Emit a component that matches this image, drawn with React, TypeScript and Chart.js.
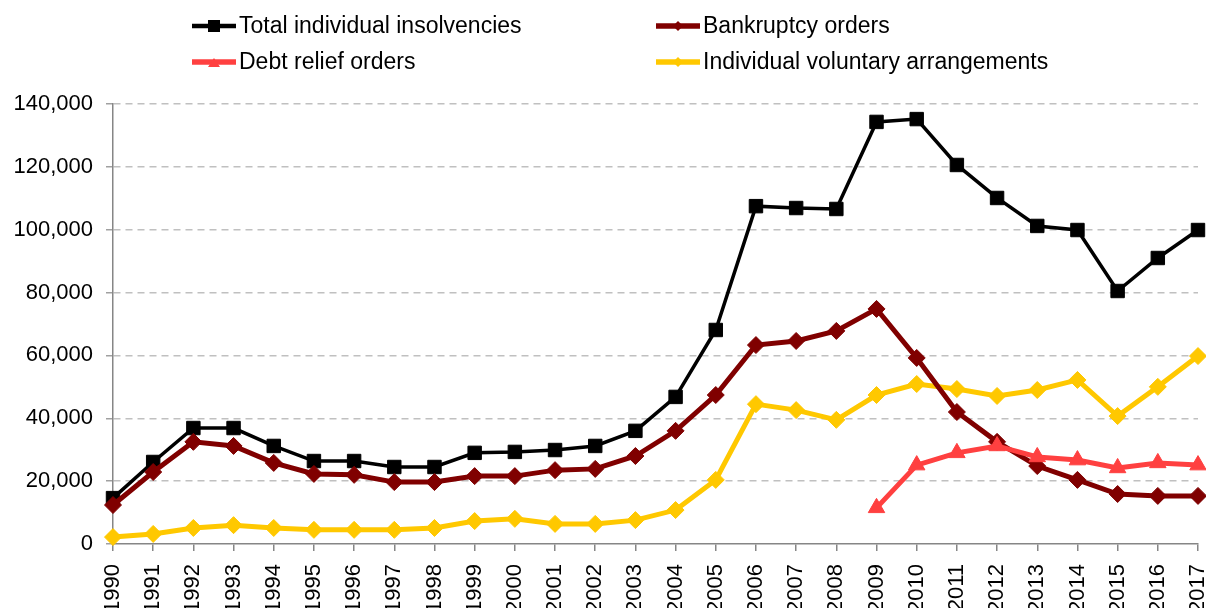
import React, { useEffect, useRef } from "react";
import { Chart, registerables } from "chart.js";

Chart.register(...registerables);

const years = [
  "1990", "1991", "1992", "1993", "1994", "1995", "1996", "1997", "1998", "1999",
  "2000", "2001", "2002", "2003", "2004", "2005", "2006", "2007", "2008", "2009",
  "2010", "2011", "2012", "2013", "2014", "2015", "2016", "2017",
];

const totalInsolvencies = [
  14600, 26100, 36900, 36900, 31200, 26400, 26400, 24500, 24500, 29000,
  29300, 29900, 31200, 36000, 46800, 68100, 107500, 106900, 106600, 134300,
  135200, 120600, 110100, 101200, 99900, 80500, 91000, 99900,
];

const bankruptcyOrders = [
  12400, 22900, 32500, 31200, 25800, 22300, 22000, 19700, 19700, 21600,
  21600, 23500, 23900, 28000, 36000, 47400, 63300, 64600, 67800, 74800,
  59200, 42000, 32500, 24800, 20400, 15900, 15300, 15300,
];

const debtReliefOrders = [
  null, null, null, null, null, null, null, null, null, null,
  null, null, null, null, null, null, null, null, null, 11500,
  25100, 29000, 31200, 27700, 26700, 24200, 25800, 25100,
];

const ivaValues = [
  2200, 3200, 5100, 6000, 5100, 4500, 4500, 4500, 5100, 7300,
  8000, 6400, 6400, 7600, 10800, 20400, 44500, 42600, 39500, 47400,
  50900, 49300, 47100, 49000, 52200, 40700, 50000, 59800,
];

const seriesNames = [
  "Total individual insolvencies",
  "Bankruptcy orders",
  "Debt relief orders",
  "Individual voluntary arrangements",
];

const yTicks = [0, 20000, 40000, 60000, 80000, 100000, 120000, 140000];

const FONT = "'Liberation Sans', Arial, sans-serif";

const legendItems = [
  { name: seriesNames[0], color: "#000000", style: "rect", x: 192, y: 26, lw: 4.5, r: 8 },
  { name: seriesNames[1], color: "#800000", style: "rectRot", x: 656, y: 26, lw: 5.5, r: 5 },
  { name: seriesNames[2], color: "#ff4040", style: "triangle", x: 192, y: 62, lw: 5.5, r: 6 },
  { name: seriesNames[3], color: "#ffc800", style: "rectRot", x: 656, y: 62, lw: 5.5, r: 5 },
];

const legendPlugin = {
  id: "customLegend",
  afterDraw(chart: any) {
    const ctx = chart.ctx;
    ctx.save();
    for (const it of legendItems) {
      ctx.strokeStyle = it.color;
      ctx.lineWidth = it.lw;
      ctx.lineCap = "butt";
      ctx.setLineDash([]);
      ctx.beginPath();
      ctx.moveTo(it.x, it.y);
      ctx.lineTo(it.x + 44, it.y);
      ctx.stroke();
      ctx.fillStyle = it.color;
      const cx = it.x + 22;
      const cy = it.y;
      ctx.beginPath();
      if (it.style === "rect") {
        ctx.rect(cx - 6, cy - 6, 12, 12);
      } else if (it.style === "rectRot") {
        ctx.moveTo(cx - it.r, cy);
        ctx.lineTo(cx, cy - it.r);
        ctx.lineTo(cx + it.r, cy);
        ctx.lineTo(cx, cy + it.r);
        ctx.closePath();
      } else {
        ctx.moveTo(cx, cy - 4);
        ctx.lineTo(cx + 6, cy + 5);
        ctx.lineTo(cx - 6, cy + 5);
        ctx.closePath();
      }
      ctx.fill();
      ctx.fillStyle = "#000000";
      ctx.font = `23px ${FONT}`;
      ctx.textBaseline = "middle";
      ctx.textAlign = "left";
      ctx.fillText(it.name, it.x + 47, it.y + 1);
    }
    ctx.restore();
  },
};

const noPadding = () => ({ left: 0, right: 0, top: 0, bottom: 0 });

export default function App() {
  const canvasRef = useRef<HTMLCanvasElement | null>(null);

  useEffect(() => {
    const canvas = canvasRef.current;
    if (!canvas) return;
    const chart = new Chart(canvas, {
      type: "line",
      data: {
        labels: years,
        datasets: [
          {
            label: seriesNames[0],
            data: totalInsolvencies,
            borderColor: "#000000",
            backgroundColor: "#000000",
            borderWidth: 3.5,
            pointStyle: "rect",
            pointRadius: 9.5,
            pointBorderWidth: 1,
            pointBackgroundColor: "#000000",
            pointBorderColor: "#000000",
            tension: 0,
            clip: false,
            order: 4,
          },
          {
            label: seriesNames[3],
            data: ivaValues,
            borderColor: "#ffc800",
            backgroundColor: "#ffc800",
            borderWidth: 5,
            pointStyle: "rectRot",
            pointRadius: 8.5,
            pointBorderWidth: 1,
            pointBackgroundColor: "#ffc800",
            pointBorderColor: "#ffc800",
            tension: 0,
            clip: false,
            order: 3,
          },
          {
            label: seriesNames[1],
            data: bankruptcyOrders,
            borderColor: "#800000",
            backgroundColor: "#800000",
            borderWidth: 5,
            pointStyle: "rectRot",
            pointRadius: 8.5,
            pointBorderWidth: 1,
            pointBackgroundColor: "#800000",
            pointBorderColor: "#800000",
            tension: 0,
            clip: false,
            order: 2,
          },
          {
            label: seriesNames[2],
            data: debtReliefOrders,
            borderColor: "#ff4040",
            backgroundColor: "#ff4040",
            borderWidth: 5,
            pointStyle: "triangle",
            pointRadius: 9.5,
            pointBorderWidth: 1,
            pointBackgroundColor: "#ff4040",
            pointBorderColor: "#ff4040",
            tension: 0,
            clip: false,
            spanGaps: false,
            order: 1,
          },
        ],
      },
      options: {
        responsive: false,
        animation: false,
        devicePixelRatio: 1,
        layout: { autoPadding: false, padding: { top: 104, right: 8, bottom: 0, left: 0 } },
        plugins: {
          legend: { display: false },
          tooltip: { enabled: false },
          title: { display: false },
        },
        scales: {
          x: {
            type: "category",
            offset: false,
            border: { display: true, color: "#868686", width: 1.5 },
            grid: {
              display: true,
              drawOnChartArea: false,
              drawTicks: true,
              tickLength: 7,
              color: "#868686",
              lineWidth: 1.5,
            },
            ticks: {
              autoSkip: false,
              minRotation: 90,
              maxRotation: 90,
              padding: 13,
              color: "#000000",
              font: { family: FONT, size: 22 },
            },
            afterFit(scale: any) {
              scale.height = 64;
              scale.paddingLeft = 0;
              scale.paddingRight = 0;
              scale.getPadding = noPadding;
            },
          },
          y: {
            min: 0,
            max: 140000,
            afterBuildTicks(scale: any) {
              scale.ticks = yTicks.map((v) => ({ value: v }));
            },
            border: { display: true, color: "#868686", width: 1.5, dash: [7, 5] },
            grid: {
              color: (c: any) => (c.tick && c.tick.value === 0 ? "rgba(0,0,0,0)" : "#c0c0c0"),
              lineWidth: 1.5,
              tickLength: 7,
              tickColor: "#a0a0a0",
              tickWidth: 1.5,
            },
            ticks: {
              padding: 13,
              color: "#000000",
              font: { family: FONT, size: 22 },
              callback: (v: any) => Number(v).toLocaleString("en-US"),
            },
            afterFit(scale: any) {
              scale.width = 113;
              scale.getPadding = noPadding;
            },
          } as any,
        },
      },
      plugins: [legendPlugin],
    } as any);
    return () => chart.destroy();
  }, []);

  return (
    <div style={{ position: "absolute", left: 0, top: 0, width: 1206, height: 608, background: "#ffffff" }}>
      <canvas ref={canvasRef} width={1206} height={608} style={{ display: "block" }} />
    </div>
  );
}
